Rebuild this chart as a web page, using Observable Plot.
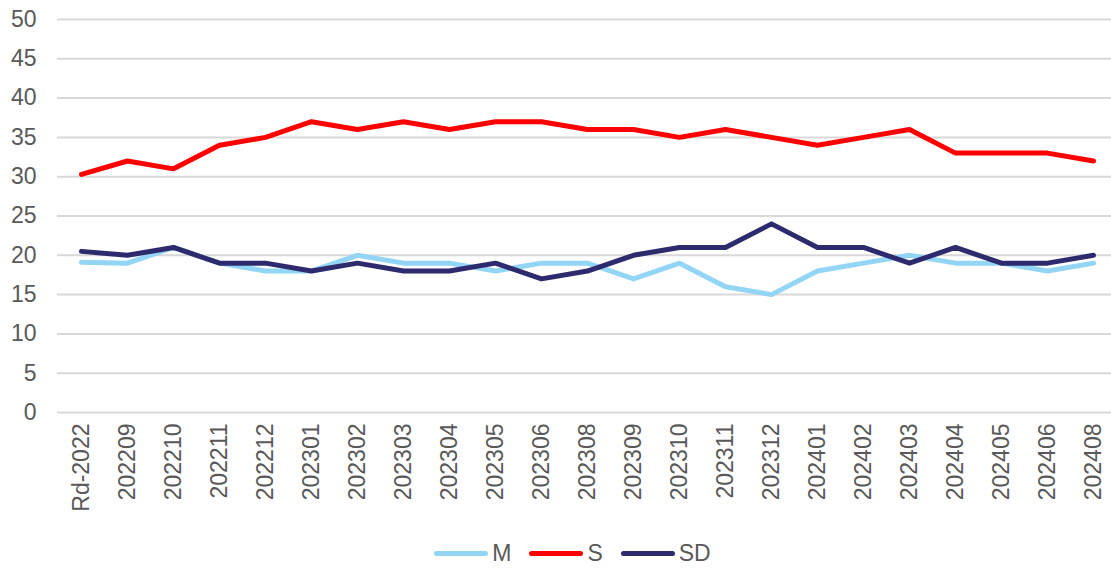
<!DOCTYPE html>
<html>
<head>
<meta charset="utf-8">
<script src="https://cdn.jsdelivr.net/npm/d3@7"></script>
<script src="https://cdn.jsdelivr.net/npm/@observablehq/plot@0.6"></script>
<style>
  html, body { margin: 0; padding: 0; background: #fff; }
  body { width: 1111px; height: 574px; overflow: hidden; font-family: "Liberation Sans", Arial, sans-serif; }
  #legend { display: flex; justify-content: center; align-items: center; margin-top: 9px; padding-left: 34px; font-size: 23px; line-height: 28px; color: #595959; }
  .item { display: flex; align-items: center; margin: 0 9px; }
  .sw { width: 54px; height: 5px; border-radius: 3px; margin-right: 4px; }
</style>
</head>
<body>
<div id="chart"></div>
<div id="legend"></div>
<script>
const categories = ["Rd-2022","202209","202210","202211","202212","202301","202302","202303","202304","202305","202306","202308","202309","202310","202311","202312","202401","202402","202403","202404","202405","202406","202408"];
const seriesNames = ["M", "S", "SD"];
const seriesColors = ["#92d5f5", "#ff0000", "#2e2a6e"];
const valuesM  = [19.1, 19, 21, 19, 18, 18, 20, 19, 19, 18, 19, 19, 17, 19, 16, 15, 18, 19, 20, 19, 19, 18, 19];
const valuesS  = [30.3, 32, 31, 34, 35, 37, 36, 37, 36, 37, 37, 36, 36, 35, 36, 35, 34, 35, 36, 33, 33, 33, 32];
const valuesSD = [20.5, 20, 21, 19, 19, 18, 19, 18, 18, 19, 17, 18, 20, 21, 21, 24, 21, 21, 19, 21, 19, 19, 20];
const yTicks = [0, 5, 10, 15, 20, 25, 30, 35, 40, 45, 50];

const seriesValues = [valuesM, valuesS, valuesSD];
const data = [];
seriesNames.forEach((s, i) => categories.forEach((c, j) => data.push({series: s, cat: c, value: seriesValues[i][j]})));

const chart = Plot.plot({
  width: 1111,
  height: 530,
  marginTop: 19,
  marginBottom: 118,
  marginLeft: 57,
  marginRight: 0,
  style: { fontFamily: "'Liberation Sans', Arial, sans-serif", color: "#595959", background: "#fff" },
  x: { type: "point", domain: categories, range: [80, 1094], padding: 0 },
  y: { domain: [0, 50] },
  color: { domain: seriesNames, range: seriesColors },
  marks: [
    Plot.gridY(yTicks, { stroke: "#d9d9d9", strokeOpacity: 1, strokeWidth: 2 }),
    Plot.axisY(yTicks, { tickSize: 0, tickPadding: 21, fontSize: 23, fill: "#595959", label: null }),
    Plot.axisX({ tickSize: 0, tickPadding: 11, tickRotate: -90, fontSize: 23, fill: "#595959", label: null }),
    Plot.line(data, { x: "cat", y: "value", z: "series", stroke: "series", strokeWidth: 5, strokeLinejoin: "round", strokeLinecap: "round" })
  ]
});
document.getElementById("chart").appendChild(chart);

const legend = document.getElementById("legend");
seriesNames.forEach((s, i) => {
  const item = document.createElement("div");
  item.className = "item";
  item.innerHTML = `<div class="sw" style="background:${seriesColors[i]}"></div><span>${s}</span>`;
  legend.appendChild(item);
});
</script>
</body>
</html>
